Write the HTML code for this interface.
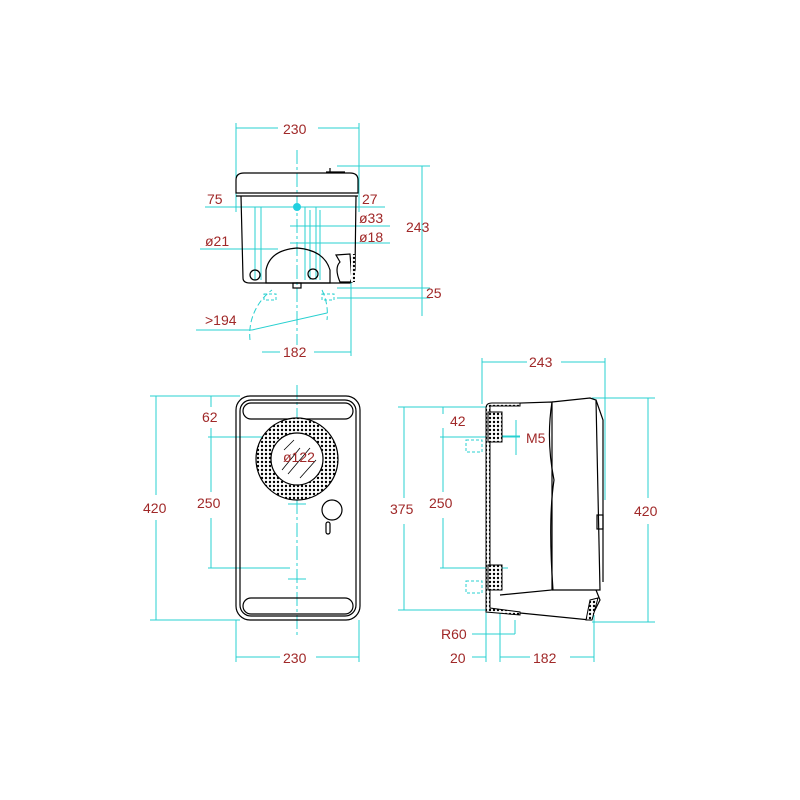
<!DOCTYPE html>
<html><head><style>body{margin:0;background:#fff}svg{display:block}text{font-family:"Liberation Sans",sans-serif;font-size:14px;fill:#a02828}</style></head><body>
<svg width="800" height="800" viewBox="0 0 800 800" xmlns="http://www.w3.org/2000/svg">
<defs><pattern id="d" width="4" height="4" patternUnits="userSpaceOnUse"><rect width="4" height="4" fill="#fff"/><circle cx="2" cy="2" r="1.2" fill="#000"/></pattern></defs>
<g stroke="#28d0d0" stroke-width="1" fill="none">
<line x1="236" y1="128" x2="278" y2="128"/><line x1="318" y1="128" x2="359" y2="128"/>
<line x1="236" y1="123" x2="236" y2="212"/><line x1="359" y1="123" x2="359" y2="212"/>
<line x1="205" y1="207" x2="385" y2="207"/>
<line x1="290" y1="226" x2="390" y2="226"/><line x1="290" y1="243" x2="390" y2="243"/>
<line x1="200" y1="249" x2="278" y2="249"/>
<line x1="255" y1="207" x2="255" y2="280"/><line x1="261" y1="207" x2="261" y2="280"/>
<line x1="305" y1="207" x2="305" y2="280"/><line x1="310" y1="210" x2="310" y2="280"/><line x1="316" y1="207" x2="316" y2="280"/><line x1="320" y1="210" x2="320" y2="280"/>
<line x1="337" y1="166" x2="430" y2="166"/><line x1="422" y1="166" x2="422" y2="316"/>
<line x1="337" y1="288" x2="430" y2="288"/><line x1="337" y1="298" x2="430" y2="298"/>
<line x1="351" y1="280" x2="351" y2="356"/>
<line x1="262" y1="352" x2="280" y2="352"/><line x1="314" y1="352" x2="351" y2="352"/>
<line x1="196" y1="330" x2="252" y2="330"/><line x1="252" y1="330" x2="327" y2="313"/>
<path d="M250 340 A55 55 0 0 1 272 290 M322 290 A55 55 0 0 1 327 320" stroke-dasharray="6 3"/>
<rect x="264" y="294" width="12" height="6" stroke-dasharray="3 2"/><rect x="322" y="294" width="12" height="6" stroke-dasharray="3 2"/>
<line x1="297" y1="150" x2="297" y2="345" stroke-dasharray="14 3 3 3"/>
<line x1="150" y1="396" x2="240" y2="396"/><line x1="150" y1="620" x2="240" y2="620"/>
<line x1="156" y1="396" x2="156" y2="495"/><line x1="156" y1="520" x2="156" y2="620"/>
<line x1="211" y1="396" x2="211" y2="407"/><line x1="211" y1="428" x2="211" y2="492"/><line x1="211" y1="518" x2="211" y2="568"/>
<line x1="208" y1="437" x2="300" y2="437"/><line x1="208" y1="568" x2="290" y2="568"/>
<line x1="288" y1="504" x2="306" y2="504"/><line x1="288" y1="579" x2="306" y2="579"/>
<line x1="236" y1="620" x2="236" y2="662"/><line x1="359" y1="620" x2="359" y2="662"/>
<line x1="236" y1="657" x2="280" y2="657"/><line x1="316" y1="657" x2="359" y2="657"/>
<line x1="297" y1="385" x2="297" y2="635" stroke-dasharray="14 3 3 3"/>
<line x1="278" y1="441" x2="291" y2="449"/><line x1="313" y1="470" x2="322" y2="477"/>
<line x1="482" y1="358" x2="482" y2="404"/><line x1="605" y1="358" x2="605" y2="500"/>
<line x1="482" y1="362" x2="527" y2="362"/><line x1="561" y1="362" x2="605" y2="362"/>
<line x1="592" y1="398" x2="655" y2="398"/><line x1="592" y1="622" x2="655" y2="622"/>
<line x1="648" y1="398" x2="648" y2="498"/><line x1="648" y1="524" x2="648" y2="622"/>
<line x1="398" y1="407" x2="490" y2="407"/><line x1="398" y1="610" x2="490" y2="610"/>
<line x1="404" y1="407" x2="404" y2="498"/><line x1="404" y1="524" x2="404" y2="610"/>
<line x1="443" y1="407" x2="443" y2="414"/><line x1="443" y1="428" x2="443" y2="492"/><line x1="443" y1="518" x2="443" y2="568"/>
<line x1="440" y1="437" x2="520" y2="437"/><line x1="440" y1="568" x2="508" y2="568"/>
<line x1="516" y1="420" x2="516" y2="455"/><line x1="500" y1="436" x2="520" y2="436"/>
<line x1="486" y1="610" x2="486" y2="662"/><line x1="500" y1="610" x2="500" y2="662"/><line x1="594" y1="615" x2="594" y2="662"/>
<line x1="472" y1="657" x2="486" y2="657"/><line x1="500" y1="657" x2="530" y2="657"/><line x1="570" y1="657" x2="594" y2="657"/>
<line x1="472" y1="634" x2="515" y2="634"/><line x1="515" y1="620" x2="515" y2="634"/>
<rect x="466" y="440" width="16" height="12" stroke-dasharray="3 2"/><rect x="466" y="581" width="16" height="12" stroke-dasharray="3 2"/>
</g>
<circle cx="297" cy="207" r="4" fill="#20d0e0"/>
<g stroke="#000" stroke-width="1.2" fill="none">
<path d="M236 193 L236 180 Q236 173 244 173 L350 173 Q358 173 358 180 L358 193 Z"/>
<line x1="236" y1="196" x2="358" y2="196"/>
<path d="M241 196 L243 278 Q243 283 250 283 L350 283 L355 270 L356 196"/>
<path d="M266 283 L266 270 Q270 250 297 248 Q324 250 330 270 L330 283 Z"/>
<circle cx="255" cy="275" r="5"/><circle cx="313" cy="274" r="5"/>
<path d="M330 168 L330 173 M326 172 L345 172"/>
<path d="M336 255 L350 254 L352 282 L340 282 Q334 268 340 262 Z"/>
<rect x="293" y="283" width="8" height="5"/>
</g>
<rect x="351" y="254" width="4" height="28" fill="url(#d)"/>
<g stroke="#000" stroke-width="1.2" fill="none">
<rect x="236" y="396" width="124" height="224" rx="14"/>
<rect x="240" y="400" width="116" height="216" rx="11"/>
<rect x="243" y="403" width="110" height="16" rx="8"/>
<rect x="243" y="598" width="110" height="16" rx="8"/>
<circle cx="297" cy="459" r="41" fill="url(#d)"/>
<circle cx="297" cy="459" r="26" fill="#fff"/>
<circle cx="332" cy="510" r="10"/>
<rect x="326" y="522" width="4" height="12" rx="2"/>
</g>
<g stroke="#000" stroke-width="0.8">
<line x1="282" y1="470" x2="300" y2="448"/><line x1="288" y1="474" x2="310" y2="448"/><line x1="300" y1="478" x2="316" y2="460"/><line x1="284" y1="450" x2="294" y2="440"/>
</g>
<g stroke="#000" stroke-width="1.2" fill="none">
<path d="M490 404 L552 402 L552 590 L500 595"/>
<path d="M552 402 L590 398 L596 400 L600 590 L552 590"/>
<path d="M596 400 L603 420 L603 582"/>
<path d="M552 402 Q546 440 554 480 Q548 520 553 590"/>
<path d="M596 590 L600 600 L590 620 L510 612"/>
<rect x="597" y="515" width="6" height="14"/>
</g>
<path d="M486 408 Q486 403 492 403 L520 403 L520 406 L490 406 L490 608 L520 612 L520 615 L486 612 Z" fill="url(#d)" stroke="#000"/>
<rect x="488" y="412" width="14" height="30" fill="url(#d)" stroke="#000"/>
<rect x="488" y="565" width="14" height="25" fill="url(#d)" stroke="#000"/>
<path d="M590 600 L598 598 L592 620 L586 620 Z" fill="url(#d)" stroke="#000"/>
<text x="283" y="134">230</text>
<text x="207" y="204">75</text>
<text x="362" y="204">27</text>
<text x="359" y="223">ø33</text>
<text x="359" y="242">ø18</text>
<text x="205" y="246">ø21</text>
<text x="406" y="232">243</text>
<text x="426" y="298">25</text>
<text x="205" y="325">&gt;194</text>
<text x="283" y="357">182</text>
<text x="202" y="422">62</text>
<text x="283" y="462">ø122</text>
<text x="197" y="508">250</text>
<text x="143" y="513">420</text>
<text x="283" y="663">230</text>
<text x="529" y="367">243</text>
<text x="450" y="426">42</text>
<text x="526" y="443">M5</text>
<text x="429" y="508">250</text>
<text x="390" y="514">375</text>
<text x="634" y="516">420</text>
<text x="441" y="639">R60</text>
<text x="450" y="663">20</text>
<text x="533" y="663">182</text>
</svg>
</body></html>
